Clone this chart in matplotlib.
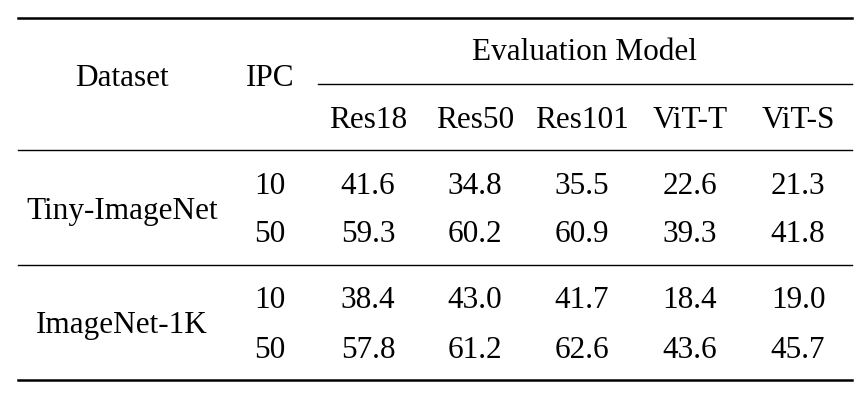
import matplotlib.pyplot as plt

models = ["Res18", "Res50", "Res101", "ViT-T", "ViT-S"]
datasets = ["Tiny-ImageNet", "ImageNet-1K"]
ipcs = ["10", "50"]
tiny_10 = ["41.6", "34.8", "35.5", "22.6", "21.3"]
tiny_50 = ["59.3", "60.2", "60.9", "39.3", "41.8"]
in1k_10 = ["38.4", "43.0", "41.7", "18.4", "19.0"]
in1k_50 = ["57.8", "61.2", "62.6", "43.6", "45.7"]

rows = [tiny_10, tiny_50, in1k_10, in1k_50]

fig = plt.figure(figsize=(8.64, 4), dpi=100)
ax = fig.add_axes([0, 0, 1, 1])
ax.set_xlim(0, 864)
ax.set_ylim(400, 0)
ax.axis("off")

font = dict(family="Liberation Serif", fontsize=22.5, ha="center", va="center")

col_x = [368, 475, 582, 690, 798]

# rules
ax.plot([18, 852], [18, 18], color="black", lw=1.8)
ax.plot([318, 852], [84, 84], color="black", lw=1.0)
ax.plot([18, 852], [150, 150], color="black", lw=1.0)
ax.plot([18, 852], [265, 265], color="black", lw=1.0)
ax.plot([18, 852], [380, 380], color="black", lw=1.8)

# header
ax.text(122, 78, "Dataset", **font)
ax.text(270, 78, "IPC", **font)
ax.text(584, 53, "Evaluation Model", **font)
for x, m in zip(col_x, models):
    ax.text(x, 121, m, **font)

# body
ax.text(122, 211, datasets[0], **font)
ax.text(122, 326, datasets[1], **font)
row_y = [186, 235, 301, 350]
for i, (y, vals) in enumerate(zip(row_y, rows)):
    ax.text(270, y, ipcs[i % 2], **font)
    for x, v in zip(col_x, vals):
        ax.text(x, y, v, **font)

fig.savefig("out.png", dpi=100)
